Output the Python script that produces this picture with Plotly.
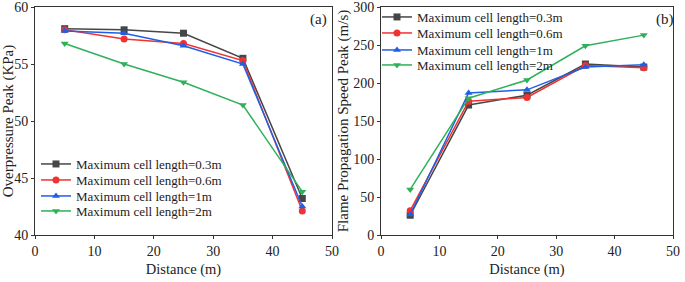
import plotly.graph_objects as go

distance = [5, 15, 25, 35, 45]
series_names = ["Maximum cell length=0.3m", "Maximum cell length=0.6m",
                "Maximum cell length=1m", "Maximum cell length=2m"]

overpressure_03 = [58.1, 58.0, 57.7, 55.5, 43.2]
overpressure_06 = [58.0, 57.2, 56.8, 55.3, 42.1]
overpressure_1 = [57.9, 57.7, 56.6, 55.0, 42.5]
overpressure_2 = [56.8, 55.0, 53.4, 51.4, 43.8]

speed_03 = [26, 171, 184, 225, 221]
speed_06 = [32, 176, 181, 223, 220]
speed_1 = [27, 187, 191, 221, 224]
speed_2 = [60, 180, 204, 249, 263]

colors = ["#464646", "#f03232", "#1f5fe6", "#2fb05a"]
symbols = ["square", "circle", "triangle-up", "triangle-down"]

FONT = "Liberation Serif"
W, H = 685, 282
def px(x): return x / W
def py(y): return 1 - y / H

fig = go.Figure()
legend_layout = {}
rows_a = [164, 180, 196, 211]
rows_b = [17, 33, 50, 65]

k = 1
for i, (name, ys) in enumerate(zip(series_names, [overpressure_03, overpressure_06, overpressure_1, overpressure_2])):
    lg = "legend" if k == 1 else f"legend{k}"
    fig.add_trace(go.Scatter(x=distance, y=ys, mode="lines+markers", name=name, showlegend=True,
                             line=dict(color=colors[i], width=1.5),
                             marker=dict(symbol=symbols[i], size=7, color=colors[i]),
                             xaxis="x", yaxis="y", legend=lg))
    legend_layout[lg] = dict(x=px(36), y=py(rows_a[i]), xanchor="left", yanchor="middle",
                             bgcolor="rgba(0,0,0,0)", font=dict(family=FONT, size=13, color="#222"))
    k += 1
for i, (name, ys) in enumerate(zip(series_names, [speed_03, speed_06, speed_1, speed_2])):
    lg = f"legend{k}"
    fig.add_trace(go.Scatter(x=distance, y=ys, mode="lines+markers", name=name, showlegend=True,
                             line=dict(color=colors[i], width=1.5),
                             marker=dict(symbol=symbols[i], size=7, color=colors[i]),
                             xaxis="x2", yaxis="y2", legend=lg))
    legend_layout[lg] = dict(x=px(377), y=py(rows_b[i]), xanchor="left", yanchor="middle",
                             bgcolor="rgba(0,0,0,0)", font=dict(family=FONT, size=13, color="#222"))
    k += 1

axis_common = dict(showgrid=False, zeroline=False, showline=True, linecolor="#333", linewidth=1,
                   mirror=True, ticks="outside", ticklen=3, tickcolor="#333", automargin=False,
                   ticklabeloverflow="allow",
                   tickfont=dict(family=FONT, size=14, color="#222"))

fig.update_layout(
    width=W, height=H, margin=dict(l=0, r=0, t=0, b=0),
    showlegend=True,
    paper_bgcolor="white", plot_bgcolor="white",
    font=dict(family=FONT, color="#222"),
    xaxis=dict(domain=[px(35), px(332)], range=[0, 50], dtick=10, anchor="y",
               title=dict(text="Distance (m)", font=dict(family=FONT, size=14.5), standoff=6), **axis_common),
    yaxis=dict(domain=[py(235), py(7)], range=[40, 60], dtick=5, anchor="x",
               title=dict(text="Overpressure Peak (KPa)", font=dict(family=FONT, size=15), standoff=2), **axis_common),
    xaxis2=dict(domain=[px(381), px(673)], range=[0, 50], dtick=10, anchor="y2",
                title=dict(text="Distance (m)", font=dict(family=FONT, size=14.5), standoff=6), **axis_common),
    yaxis2=dict(domain=[py(235), py(7)], range=[0, 300], dtick=50, anchor="x2",
                title=dict(text="Flame Propagation Speed Peak (m/s)", font=dict(family=FONT, size=15), standoff=0), **axis_common),
    annotations=[
        dict(text="(a)", x=px(318), y=py(20), xref="paper", yref="paper", showarrow=False,
             xanchor="center", yanchor="middle", font=dict(family=FONT, size=15, color="#222")),
        dict(text="(b)", x=px(665), y=py(20), xref="paper", yref="paper", showarrow=False,
             xanchor="center", yanchor="middle", font=dict(family=FONT, size=15, color="#222")),
    ],
    **legend_layout,
)

fig.write_html("out.html", config={"displayModeBar": False},
               post_script="document.body.style.margin='0';document.body.style.overflow='hidden';")
